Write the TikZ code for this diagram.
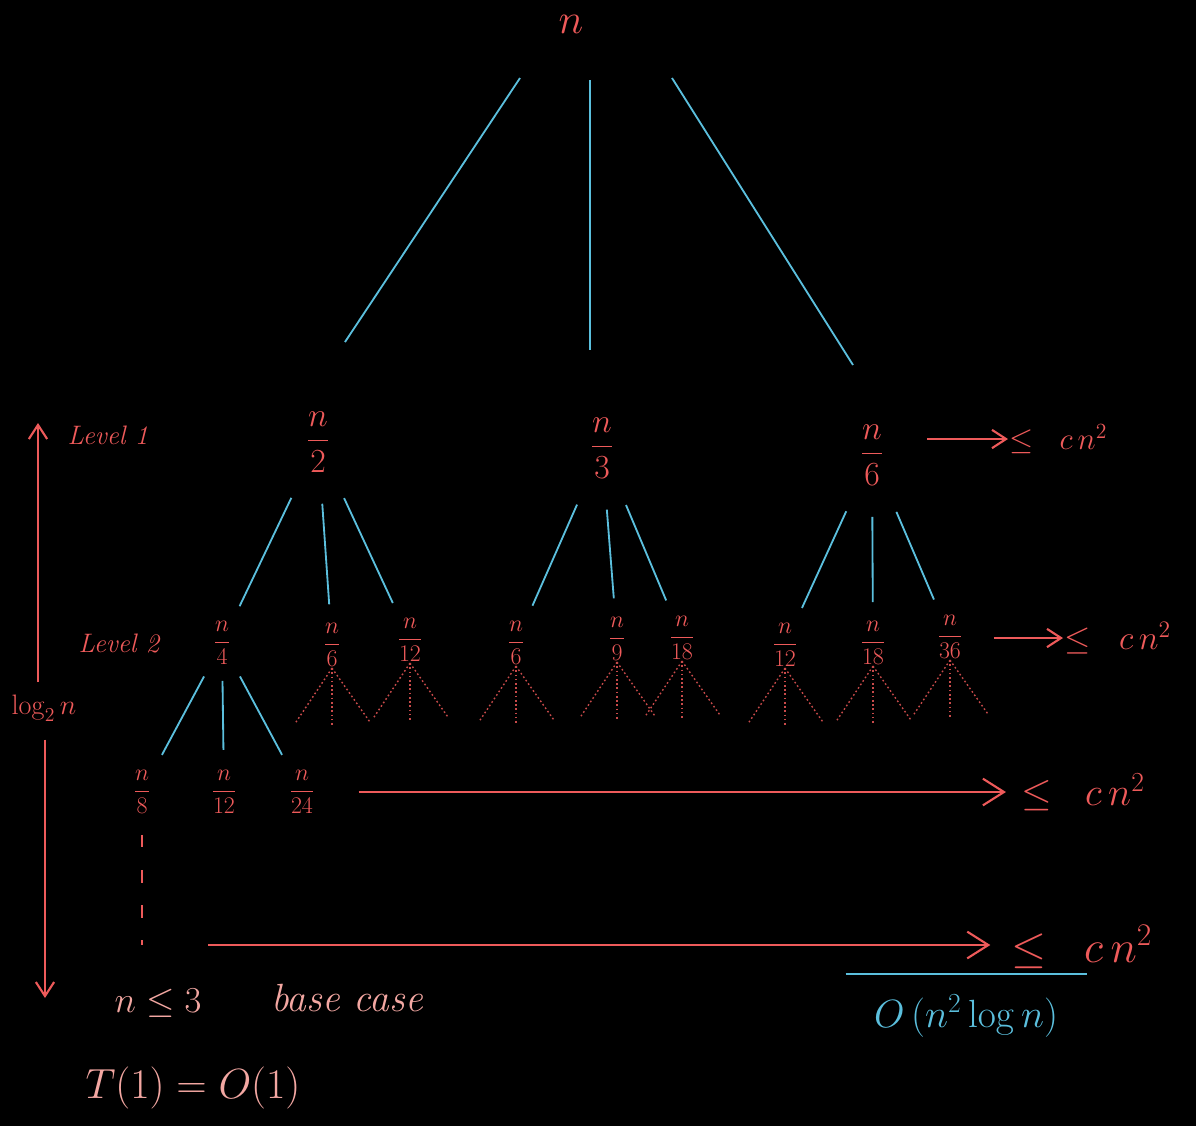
\RequirePackage{fix-cm}
\documentclass[tikz,border=0pt]{standalone}
\usepackage{amsmath}
\usepackage{tikz}
\usetikzlibrary{arrows.meta}
\definecolor{chalk}{HTML}{EE5A5A}
\definecolor{wire}{HTML}{5BBFDD}
\definecolor{pale}{HTML}{F3A7A2}
\definecolor{dim}{HTML}{C84A4A}

\begin{document}
\begin{tikzpicture}[
  x=0.025cm, y=-0.025cm,
  every node/.style={text=chalk, inner sep=1pt},
  rootnum/.style={font=\fontsize{30}{36}\selectfont},
  halfnum/.style={font=\fontsize{24}{29}\selectfont},
  partnum/.style={font=\fontsize{17}{20}\selectfont},
  boundtxt/.style={anchor=west, font=\fontsize{#1}{#1}\selectfont},
  sidetxt/.style={anchor=west, font=\fontsize{19}{22}\selectfont\itshape},
  basetxt/.style={text=pale, font=\fontsize{#1}{#1}\selectfont},
  branch/.style={wire, line width=1.3pt},
  fan/.style={dim, line width=1pt, dash pattern=on 1.2pt off 1.8pt},
  push/.style={chalk, line width=1.5pt, -{Straight Barb[length=10pt, width=13pt]}},
  bigpush/.style={chalk, line width=1.5pt, -{Straight Barb[length=15pt, width=19pt]}},
]
  \fill[black] (0,0) rectangle (1196,1126);
  \useasboundingbox (0,0) rectangle (1196,1126);

  % recursion tree
  \node[rootnum] (root) at (571,24) {$n$};
  \node[halfnum] (n2) at (318,442) {$\dfrac{n}{2}$};
  \node[halfnum] (n3) at (602,448) {$\dfrac{n}{3}$};
  \node[halfnum] (n6) at (872,455) {$\dfrac{n}{6}$};

  \node[partnum] (a4) at (222,643) {$\dfrac{n}{4}$};
  \node[partnum] (a6) at (332,645) {$\dfrac{n}{6}$};
  \node[partnum] (a12) at (410,640) {$\dfrac{n}{12}$};
  \node[partnum] (b6) at (516,643) {$\dfrac{n}{6}$};
  \node[partnum] (b9) at (617,639) {$\dfrac{n}{9}$};
  \node[partnum] (b18) at (682,638) {$\dfrac{n}{18}$};
  \node[partnum] (c12) at (785,645) {$\dfrac{n}{12}$};
  \node[partnum] (c18) at (873,643) {$\dfrac{n}{18}$};
  \node[partnum] (c36) at (950,637) {$\dfrac{n}{36}$};

  \node[partnum] (d8) at (142,792) {$\dfrac{n}{8}$};
  \node[partnum] (d12) at (224,792) {$\dfrac{n}{12}$};
  \node[partnum] (d24) at (302,792) {$\dfrac{n}{24}$};
  \coordinate (chainend) at (142,945);

  \draw[branch] ([shift={(-51,54)}]root.center) -- ([shift={(27,-100)}]n2.center);
  \draw[branch] ([shift={(19,56)}]root.center) -- ([shift={(-12,-98)}]n3.center);
  \draw[branch] ([shift={(101,54)}]root.center) -- ([shift={(-19,-90)}]n6.center);

  \foreach \p/\c in {n2/a4, n2/a6, n2/a12, n3/b6, n3/b9, n3/b18, n6/c12, n6/c18, n6/c36}
    \draw[branch, shorten <=44pt, shorten >=29pt] (\p.center) -- (\c.center);
  \foreach \c in {d8, d12, d24}
    \draw[branch, shorten <=27pt, shorten >=30pt] (a4.center) -- (\c.center);

  % unexpanded subtrees
  \foreach \v in {a6, a12, b6, b9, b18, c12, c18, c36} {
    \draw[fan] (\v.south) -- ++(-36,54);
    \draw[fan] (\v.south) -- ++(0,57);
    \draw[fan] (\v.south) -- ++(38,54);
  }
  \draw[chalk, line width=1.3pt, dash pattern=on 9pt off 16pt, shorten <=14pt] (d8.south) -- (chainend);

  % cost per level
  \node[boundtxt=22] (le1) at (1008,439) {$\le\;\;c\,n^{2}$};
  \node[boundtxt=24] (le2) at (1063,638) {$\le\;\;c\,n^{2}$};
  \node[boundtxt=28] (le3) at (1020,792) {$\le\;\;c\,n^{2}$};
  \node[boundtxt=32] (le4) at (1010,947) {$\le\;\;c\,n^{2}$};
  \draw[push, shorten <=30pt] (n6.east |- le1.west) -- (le1.west);
  \draw[push, shorten <=21pt] (c36.east |- le2.west) -- (le2.west);
  \draw[bigpush, shorten <=30pt, shorten >=10pt] (d24.east |- le3.west) -- (le3.west);
  \draw[bigpush, shorten <=47pt, shorten >=14pt] (chainend) -- (chainend -| le4.west);

  \node[text=wire, font=\fontsize{28}{34}\selectfont, minimum width=171pt, minimum height=59pt] (bigo) at (966,1016) {$O\,(n^{2}\log n)$};
  \draw[branch] (bigo.north west) -- (bigo.north east);

  % depth axis
  \node[sidetxt] (lv1) at (66,435) {Level 1};
  \node[sidetxt] (lv2) at (77,643) {Level 2};
  \node[font=\fontsize{20}{24}\selectfont] (lg) at (44,708) {$\log_2 n$};
  \coordinate (axtop) at (38,423);
  \coordinate (axbot) at (45,998);
  \draw[push, shorten <=8pt] (lg.north -| axtop) -- (axtop);
  \draw[push, shorten <=12pt] (lg.south -| axbot) -- (axbot);

  % base case
  \node[basetxt=26] (cond) at (158,1003) {$n \le 3$};
  \node[basetxt=28] (bcase) at (347,998) {\itshape base case};
  \node[basetxt=30] (tone) at (193,1088) {$T(1) = O(1)$};
\end{tikzpicture}
\end{document}
